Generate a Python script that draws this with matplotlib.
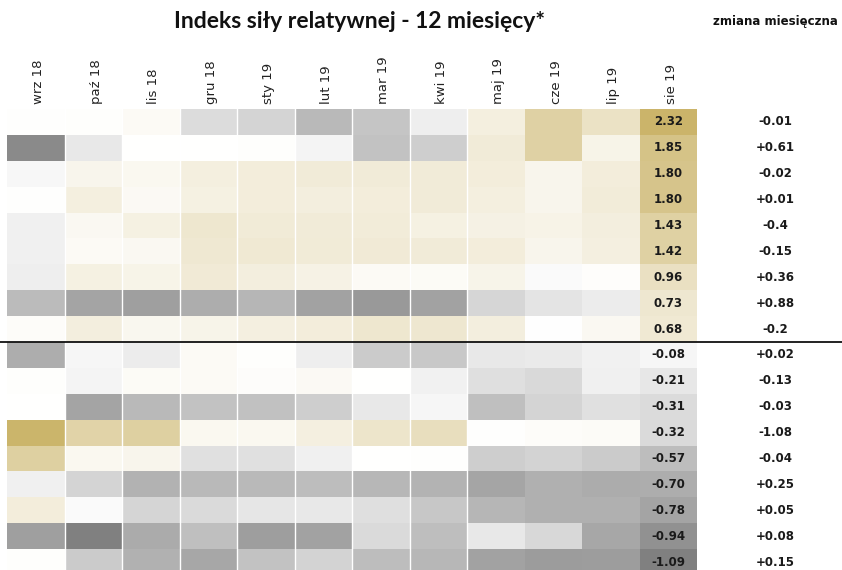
import numpy as np
import matplotlib.pyplot as plt
from matplotlib.colors import LinearSegmentedColormap, TwoSlopeNorm
from matplotlib.lines import Line2D
from matplotlib.transforms import blended_transform_factory

months = ["wrz 18", "paź 18", "lis 18", "gru 18", "sty 19", "lut 19",
          "mar 19", "kwi 19", "maj 19", "cze 19", "lip 19", "sie 19"]

r01 = [0.02, 0.05, 0.15, -0.30, -0.37, -0.60, -0.50, -0.15, 0.50, 1.40, 0.90, 2.32]
r02 = [-1.00, -0.20, 0.01, 0.00, 0.05, -0.10, -0.52, -0.42, 0.60, 1.40, 0.35, 1.85]
r03 = [-0.07, 0.30, 0.22, 0.50, 0.55, 0.60, 0.60, 0.60, 0.55, 0.30, 0.55, 1.80]
r04 = [0.03, 0.50, 0.18, 0.45, 0.55, 0.52, 0.55, 0.60, 0.50, 0.30, 0.58, 1.80]
r05 = [-0.13, 0.20, 0.45, 0.75, 0.62, 0.60, 0.58, 0.45, 0.42, 0.38, 0.52, 1.43]
r06 = [-0.13, 0.15, 0.20, 0.70, 0.68, 0.62, 0.65, 0.60, 0.55, 0.30, 0.48, 1.42]
r07 = [-0.15, 0.45, 0.35, 0.65, 0.52, 0.40, 0.15, 0.13, 0.33, -0.05, 0.07, 0.96]
r08 = [-0.58, -0.78, -0.82, -0.70, -0.63, -0.80, -0.87, -0.80, -0.35, -0.23, -0.17, 0.73]
r09 = [0.10, 0.52, 0.25, 0.33, 0.48, 0.55, 0.75, 0.73, 0.52, -0.01, 0.20, 0.68]
r10 = [-0.70, -0.08, -0.17, 0.15, 0.04, -0.15, -0.45, -0.47, -0.20, -0.18, -0.12, -0.08]
r11 = [0.05, -0.10, 0.13, 0.15, 0.08, 0.17, 0.00, -0.12, -0.28, -0.33, -0.13, -0.21]
r12 = [0.00, -0.78, -0.60, -0.52, -0.53, -0.42, -0.20, -0.08, -0.55, -0.37, -0.27, -0.31]
r13 = [2.30, 1.35, 1.45, 0.22, 0.23, 0.48, 0.80, 1.00, 0.02, 0.10, 0.12, -0.32]
r14 = [1.45, 0.22, 0.30, -0.27, -0.27, -0.13, 0.00, 0.02, -0.42, -0.38, -0.45, -0.57]
r15 = [-0.13, -0.37, -0.66, -0.60, -0.60, -0.57, -0.62, -0.65, -0.77, -0.68, -0.71, -0.70]
r16 = [0.55, -0.05, -0.36, -0.32, -0.22, -0.20, -0.28, -0.48, -0.63, -0.68, -0.68, -0.78]
r17 = [-0.82, -1.09, -0.72, -0.55, -0.83, -0.80, -0.32, -0.56, -0.20, -0.34, -0.75, -0.94]
r18 = [0.05, -0.45, -0.67, -0.75, -0.52, -0.38, -0.57, -0.62, -0.80, -0.85, -0.84, -1.09]

change = ["-0.01", "+0.61", "-0.02", "+0.01", "-0.4", "-0.15", "+0.36", "+0.88", "-0.2",
          "+0.02", "-0.13", "-0.03", "-1.08", "-0.04", "+0.25", "+0.05", "+0.08", "+0.15"]

data = np.array([r01, r02, r03, r04, r05, r06, r07, r08, r09,
                 r10, r11, r12, r13, r14, r15, r16, r17, r18])
n_rows, n_cols = data.shape

cmap = LinearSegmentedColormap.from_list("rsi", ["#808080", "#ffffff", "#cbb46a"])
norm = TwoSlopeNorm(vmin=-1.09, vcenter=0, vmax=2.32)

fig = plt.figure(figsize=(8.42, 5.70), dpi=100)
ax = fig.add_axes([7 / 842, -5 / 570, 690 / 842, 466 / 570])

ax.pcolormesh(np.arange(n_cols + 1), np.arange(n_rows + 1), data,
              cmap=cmap, norm=norm, shading="flat")
ax.set_xlim(0, n_cols)
ax.set_ylim(n_rows, 0)
ax.axis("off")

# thin white separators between the older columns
for x in range(1, 9):
    ax.axvline(x, color="white", lw=1.0)

# values in the last column + monthly change on the right
for i in range(n_rows):
    ax.text(n_cols - 0.5, i + 0.5, f"{data[i, -1]:.2f}", ha="center", va="center",
            fontsize=8.5, fontweight="bold", color="#1a1a1a")
    ax.text(13.36, i + 0.5, change[i], ha="center", va="center",
            fontsize=8.5, fontweight="bold", color="#1a1a1a", clip_on=False)

# month labels on top
for j, m in enumerate(months):
    ax.text(j + 0.55, -0.2, m, rotation=90, ha="center", va="bottom",
            fontsize=9.5, color="#222222", clip_on=False)

# separator between positive and negative
trans = blended_transform_factory(fig.transFigure, ax.transData)
fig.add_artist(Line2D([0, 1], [9, 9], transform=trans, color="#111111", lw=1.3))

fig.text(360 / 842, 1 - 22 / 570, "Indeks siły relatywnej - 12 miesięcy*",
         ha="center", va="center", fontsize=16.5, fontweight="bold",
         family=["Lato", "DejaVu Sans"], color="#111111")
fig.text(775 / 842, 1 - 22 / 570, "zmiana miesięczna", ha="center", va="center",
         fontsize=8.5, fontweight="bold", color="#111111")

fig.savefig("out.png", dpi=100)
